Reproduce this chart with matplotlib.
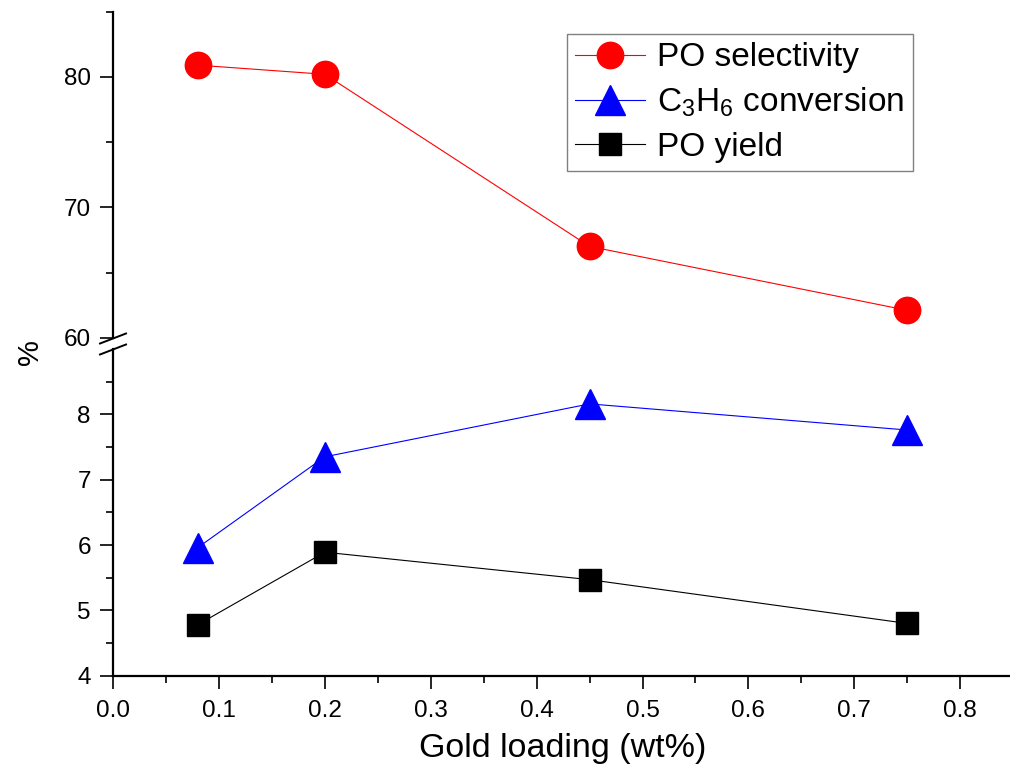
import numpy as np
import matplotlib
matplotlib.use('Agg')
import matplotlib.pyplot as plt
from matplotlib.lines import Line2D

plt.rcParams['font.family'] = ['Liberation Sans', 'DejaVu Sans']
plt.rcParams['mathtext.fontset'] = 'custom'
plt.rcParams['mathtext.rm'] = 'Liberation Sans'
plt.rcParams['mathtext.it'] = 'Liberation Sans'
plt.rcParams['xtick.labelsize'] = 17.5
plt.rcParams['ytick.labelsize'] = 17.5
plt.rcParams['xtick.major.size'] = 9.5
plt.rcParams['ytick.major.size'] = 9.5
plt.rcParams['xtick.minor.size'] = 5
plt.rcParams['ytick.minor.size'] = 5
plt.rcParams['xtick.major.width'] = 1.2
plt.rcParams['ytick.major.width'] = 1.2
plt.rcParams['xtick.minor.width'] = 1.2
plt.rcParams['ytick.minor.width'] = 1.2
plt.rcParams['xtick.major.pad'] = 8
plt.rcParams['ytick.major.pad'] = 6.5

# данные
gold = [0.08, 0.2, 0.45, 0.75]
po_sel = [80.9, 80.2, 67.0, 62.1]
c3h6_conv = [5.96, 7.35, 8.16, 7.76]
po_yield = [4.78, 5.89, 5.47, 4.80]

W, H = 1010, 776
fig = plt.figure(figsize=(W / 100, H / 100), dpi=100)

x0, x1 = 0.0, 0.85
left = 113 / W
width = 0.85 * 1059 / W

ax_top = fig.add_axes([left, 1 - 337.7 / H, width, (337.7 - 11.7) / H])
ax_bot = fig.add_axes([left, 1 - 675.7 / H, width, (675.7 - 349) / H])

l1, = ax_top.plot(gold, po_sel, color='red', lw=0.8, marker='o', ms=19,
                  mec='red', mfc='red', label='PO selectivity')
l2, = ax_bot.plot(gold, c3h6_conv, color='blue', lw=0.8, marker='^', ms=21,
                  mec='blue', mfc='blue', label='C$_3$H$_6$ conversion')
l3, = ax_bot.plot(gold, po_yield, color='black', lw=0.8, marker='s', ms=16.5,
                  mec='black', mfc='black', label='PO yield')

for ax in (ax_top, ax_bot):
    ax.set_xlim(x0, x1)
    ax.spines['top'].set_visible(False)
    ax.spines['right'].set_visible(False)
    ax.spines['left'].set_linewidth(1.6)
    ax.spines['bottom'].set_linewidth(1.6)
    ax.patch.set_alpha(0)

ax_top.set_ylim(60, 85)
ax_top.set_yticks([60, 70, 80])
ax_top.set_yticks([65, 75, 85], minor=True)
ax_top.spines['bottom'].set_visible(False)
ax_top.tick_params(axis='x', which='both', bottom=False, labelbottom=False)

ax_bot.set_ylim(4, 9)
ax_bot.set_yticks([4, 5, 6, 7, 8])
ax_bot.set_yticks([4.5, 5.5, 6.5, 7.5, 8.5], minor=True)
ax_bot.set_xticks(np.arange(0, 0.81, 0.1))
ax_bot.set_xticklabels(['%.1f' % v for v in np.arange(0, 0.81, 0.1)])
ax_bot.set_xticks(np.arange(0.05, 0.86, 0.1), minor=True)
ax_bot.set_xlabel('Gold loading (wt%)', fontsize=24.5, labelpad=8)

# разрыв оси
xa = left * W
for yc in (338.5, 349.5):
    fig.add_artist(Line2D([(xa - 13) / W, (xa + 13) / W],
                          [1 - (yc + 5) / H, 1 - (yc - 5) / H],
                          color='black', lw=1.4, transform=fig.transFigure))

fig.text(30 / W, 1 - 352 / H, '%', rotation=90, fontsize=21,
         ha='center', va='center')

leg = fig.legend(handles=[l1, l2, l3], loc='upper left',
                 bbox_to_anchor=(567 / W, 1 - 34 / H), borderaxespad=0,
                 fontsize=24, numpoints=1, handlelength=2.1,
                 handletextpad=0.35, labelspacing=0.38, borderpad=0.25,
                 fancybox=False, edgecolor='#808080', framealpha=1)
leg.get_frame().set_linewidth(1.0)

fig.savefig('out.png', dpi=100)
